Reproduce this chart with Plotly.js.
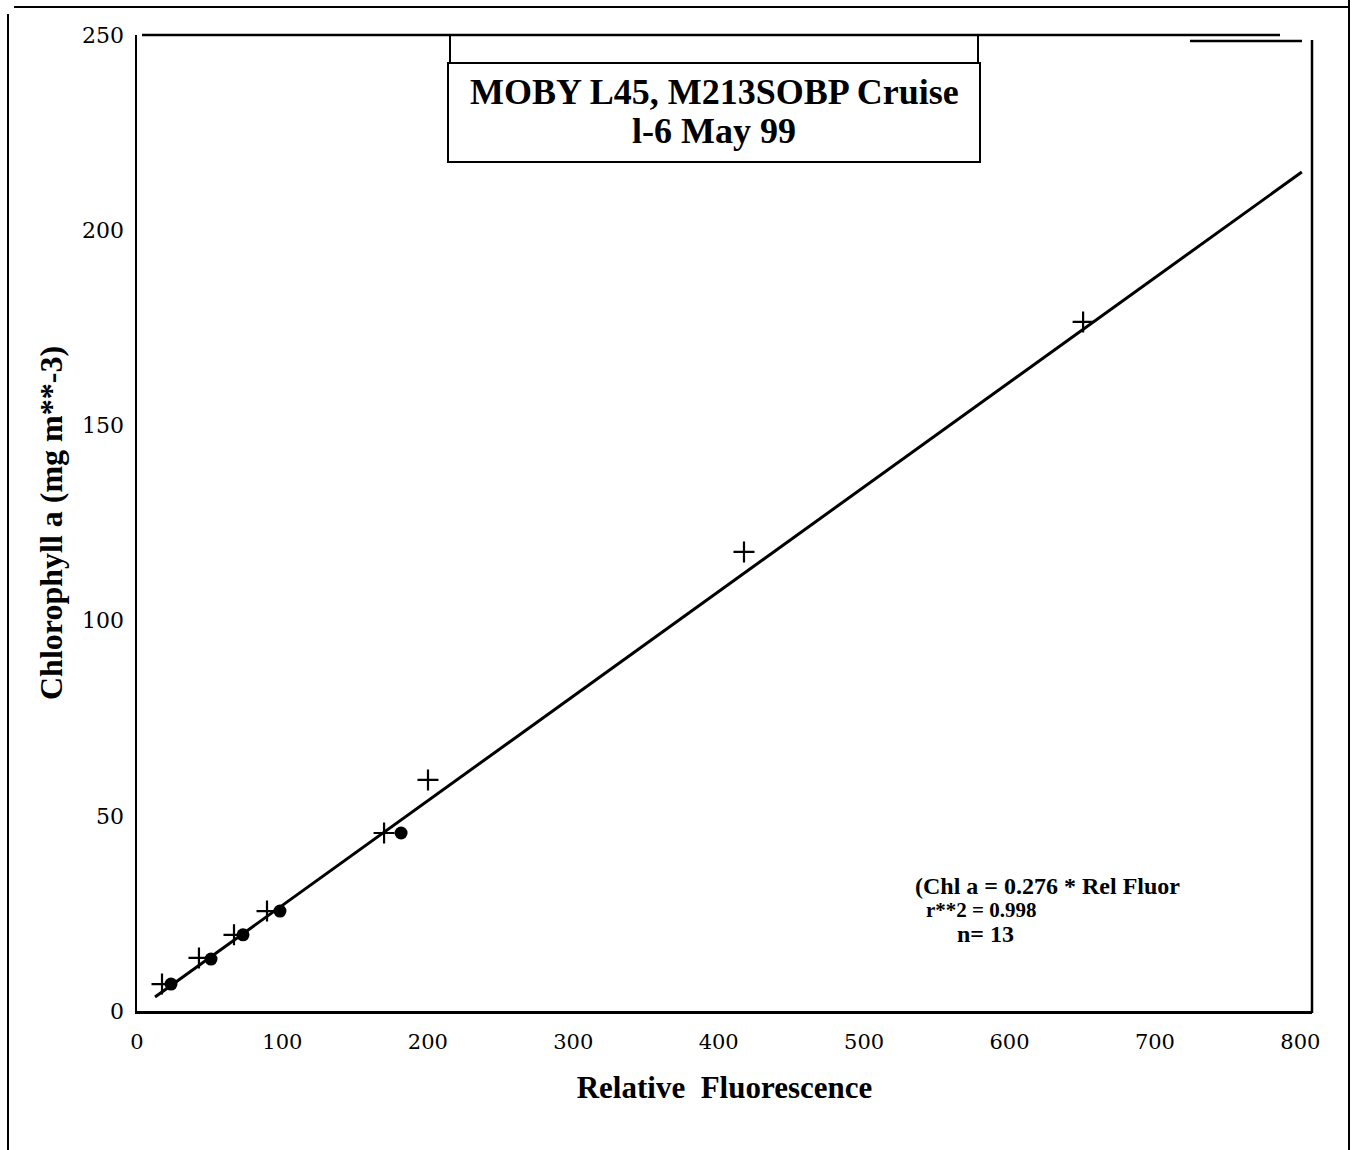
<!DOCTYPE html>
<html>
<head>
<meta charset="utf-8">
<script src="https://cdn.plot.ly/plotly-3.0.1.min.js"></script>
<style>html,body{margin:0;padding:0;background:#fff;}#chart{width:1353px;height:1150px;}</style>
</head>
<body>
<div id="chart"></div>
<script>
// Data
const plusX = [17.2, 42.6, 66.7, 89.4, 169.9, 200.1, 417.4, 650.6];
const plusY = [6.9, 13.6, 19.5, 25.6, 45.6, 59.2, 117.6, 176.5];
const dotX = [23.4, 50.9, 72.9, 98.3, 181.6];
const dotY = [6.9, 13.3, 19.5, 25.6, 45.6];
const fitX = [12.4, 801];
const fitY = [3.6, 214.9];
const xTicks = [0, 100, 200, 300, 400, 500, 600, 700, 800];
const yTicks = [0, 50, 100, 150, 200, 250];
const yTickText = ['0', '50', '100', '150', '200', '250'];

const serif = 'Liberation Serif, Times New Roman, serif';
const tickSerif = 'DejaVu Serif, serif';

const traces = [
  {x: fitX, y: fitY, mode: 'lines', line: {color: '#000', width: 3}, showlegend: false, hoverinfo: 'skip'},
  {x: plusX, y: plusY, mode: 'markers', marker: {symbol: 'cross-thin-open', size: 15, color: '#000', line: {color: '#000', width: 2.2}}, showlegend: false},
  {x: dotX, y: dotY, mode: 'markers', marker: {symbol: 'circle', size: 13, color: '#000'}, showlegend: false}
];

function px2x(px) { return (px - 137) / 1175; }
function py2y(py) { return (1011 - py) / 976; }
function hline(x0, x1, y, w) {
  return {type: 'line', xref: 'paper', yref: 'paper', x0: px2x(x0), x1: px2x(x1), y0: py2y(y), y1: py2y(y), line: {color: '#000', width: w || 2.5}};
}
function vline(x, y0, y1, w) {
  return {type: 'line', xref: 'paper', yref: 'paper', x0: px2x(x), x1: px2x(x), y0: py2y(y0), y1: py2y(y1), line: {color: '#000', width: w || 2.5}};
}
function txt(text, x, y, size, anchor) {
  return {xref: 'paper', yref: 'paper', x: px2x(x), y: py2y(y), xanchor: anchor || 'left', yanchor: 'middle', showarrow: false,
          text: text, font: {family: serif, size: size, color: '#000'}};
}

const layout = {
  width: 1353, height: 1150,
  margin: {l: 137, r: 41, t: 35, b: 139},
  paper_bgcolor: '#fff', plot_bgcolor: '#fff',
  showlegend: false,
  font: {family: serif, color: '#000'},
  xaxis: {
    range: [0, 808], tickvals: xTicks, ticks: '', showgrid: false, zeroline: false,
    showline: true, linecolor: '#000', linewidth: 2.5,
    tickfont: {family: tickSerif, size: 21, color: '#000'}, ticklabelstandoff: 10,
    title: {text: '<b>Relative  Fluorescence</b>', font: {family: serif, size: 31, color: '#000'}, standoff: 24}
  },
  yaxis: {
    range: [0, 250], tickvals: yTicks, ticktext: yTickText, ticks: '', showgrid: false, zeroline: false,
    showline: true, linecolor: '#000', linewidth: 2.5,
    tickfont: {family: tickSerif, size: 22, color: '#000'}, ticklabelstandoff: 6,
    title: {text: '<b>Chlorophyll a (mg m**-3)</b>', font: {family: serif, size: 32, color: '#000'}, standoff: 10}
  },
  shapes: [
    hline(142, 1280, 35, 2.5),
    hline(1190, 1302, 41, 2.5),
    vline(1312, 40, 1013, 2.5),
    hline(14, 1348, 7, 2),
    vline(8, 14, 1150, 2),
    vline(1349, 0, 1150, 2),
    {type: 'rect', xref: 'paper', yref: 'paper', x0: px2x(448), x1: px2x(980), y0: py2y(162), y1: py2y(63), line: {color: '#000', width: 2}},
    vline(450, 35, 63, 2),
    vline(978, 35, 63, 2)
  ],
  annotations: [
    txt('<b>MOBY L45, M213SOBP Cruise</b>', 714, 92, 36, 'center'),
    txt('<b>l-6 May 99</b>', 714, 131, 36, 'center'),
    txt('<b>(Chl a = 0.276 * Rel Fluor</b>', 913, 886, 24),
    txt('<b>r**2 = 0.998</b>', 924, 910, 21),
    txt('<b>n= 13</b>', 955, 934, 24)
  ]
};

Plotly.newPlot('chart', traces, layout, {displayModeBar: false, staticPlot: true});
</script>
</body>
</html>
